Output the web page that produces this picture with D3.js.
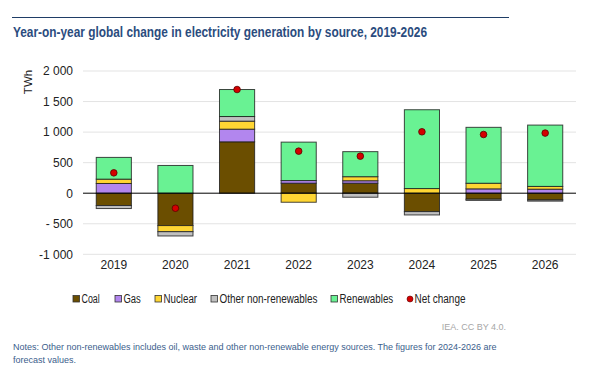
<!DOCTYPE html>
<html>
<head>
<meta charset="utf-8">
<script src="https://cdn.jsdelivr.net/npm/d3@7"></script>
<style>
  body { margin: 0; background: #fff; font-family: "Liberation Sans", Arial, sans-serif; }
  svg text { font-family: "Liberation Sans", Arial, sans-serif; }
</style>
</head>
<body>
<svg id="chart" width="615" height="370"></svg>
<script>
// chart data (TWh, year-on-year change)
var years = ['2019', '2020', '2021', '2022', '2023', '2024', '2025', '2026'];
var coal = [-202, -530, 841, 164, 164, -301, -98, -110];
var gas = [159, 0, 207, 43, 40, 0, 71, 66];
var nuclear = [71, -100, 131, -148, 66, 76, 92, 45];
var otherNonRen = [-49, -70, 76, 0, -66, -55, -20, -20];
var renewables = [356, 454, 442, 629, 410, 1290, 915, 1004];
var netChange = [333, -246, 1697, 688, 606, 1005, 961, 984];
var yTicks = [-1000, -500, 0, 500, 1000, 1500, 2000];

var seriesNames = ['Coal', 'Gas', 'Nuclear', 'Other non-renewables', 'Renewables'];
var seriesColors = ['#6b4e00', '#b286ee', '#ffd633', '#c0c0c0', '#69f293'];

var plotLeft = 83;
var plotRight = 576;
var plotTop = 71;
var plotBottom = 254.3;

var svg = d3.select('#chart');

// build rows for the stack
var rows = years.map(function(y, i) {
    return {
        year: y,
        'Coal': coal[i],
        'Gas': gas[i],
        'Nuclear': nuclear[i],
        'Other non-renewables': otherNonRen[i],
        'Renewables': renewables[i]
    };
});

var stacked = d3.stack()
    .keys(seriesNames)
    .offset(d3.stackOffsetDiverging)(rows);

var xScale = d3.scaleBand()
    .domain(years)
    .range([plotLeft, plotRight])
    .paddingInner(0.43)
    .paddingOuter(0.215);

var yScale = d3.scaleLinear()
    .domain([-1000, 2000])
    .range([plotBottom, plotTop]);

// top rule + title (narrow face, so squeeze to width)
svg.append('line')
    .attr('x1', 12).attr('x2', 509)
    .attr('y1', 17.5).attr('y2', 17.5)
    .attr('stroke', '#1f3d66')
    .attr('stroke-width', 1);

svg.append('text')
    .attr('x', 13)
    .attr('y', 36.5)
    .attr('textLength', 414)
    .attr('lengthAdjust', 'spacingAndGlyphs')
    .style('font-size', '14.5px')
    .style('font-weight', 'bold')
    .style('fill', '#2b4c7e')
    .text('Year-on-year global change in electricity generation by source, 2019-2026');

// gridlines
svg.append('g')
    .selectAll('line')
    .data(yTicks.filter(function(t) { return t !== 0; }))
    .enter()
    .append('line')
    .attr('x1', plotLeft).attr('x2', plotRight)
    .attr('y1', function(d) { return yScale(d); })
    .attr('y2', function(d) { return yScale(d); })
    .attr('stroke', '#e3e3e3')
    .attr('stroke-width', 1);

// y axis labels, space as thousands separator
function fmt(v) {
    var s = d3.format(',')(Math.abs(v)).replace(/,/g, ' ');
    if (v < 0) {
        return (Math.abs(v) < 1000 ? '- ' : '-') + s;
    }
    return s;
}

var yAxis = d3.axisLeft(yScale)
    .tickValues(yTicks)
    .tickSize(0)
    .tickPadding(0)
    .tickFormat(fmt);

var yg = svg.append('g')
    .attr('transform', 'translate(73,0)')
    .call(yAxis);
yg.select('.domain').remove();
yg.selectAll('text')
    .style('font-size', '12px')
    .style('fill', '#222');

svg.append('text')
    .attr('transform', 'translate(32,82) rotate(-90)')
    .style('text-anchor', 'middle')
    .style('font-size', '11.5px')
    .style('fill', '#222')
    .text('TWh');

// bars
svg.append('g')
    .selectAll('g')
    .data(stacked)
    .enter()
    .append('g')
    .attr('fill', function(d, i) { return seriesColors[i]; })
    .selectAll('rect')
    .data(function(d) { return d.filter(function(p) { return p[1] - p[0] !== 0; }); })
    .enter()
    .append('rect')
    .attr('x', function(d) { return xScale(d.data.year); })
    .attr('width', xScale.bandwidth())
    .attr('y', function(d) { return yScale(Math.max(d[0], d[1])); })
    .attr('height', function(d) { return Math.abs(yScale(d[0]) - yScale(d[1])); })
    .attr('stroke', '#1a1a1a')
    .attr('stroke-opacity', 0.8)
    .attr('stroke-width', 1);

// zero line
svg.append('line')
    .attr('x1', plotLeft).attr('x2', plotRight)
    .attr('y1', yScale(0)).attr('y2', yScale(0))
    .attr('stroke', '#000')
    .attr('stroke-width', 1);

// net change dots
svg.append('g')
    .selectAll('circle')
    .data(netChange)
    .enter()
    .append('circle')
    .attr('cx', function(d, i) { return xScale(years[i]) + xScale.bandwidth() / 2; })
    .attr('cy', function(d) { return yScale(d); })
    .attr('r', 3.3)
    .attr('fill', '#d40000')
    .attr('stroke', '#5a0000')
    .attr('stroke-width', 0.8);

// x axis labels
var xAxis = d3.axisBottom(xScale).tickSize(0).tickPadding(0);
var xg = svg.append('g')
    .attr('transform', 'translate(0,260)')
    .call(xAxis);
xg.select('.domain').remove();
xg.selectAll('text')
    .style('font-size', '12px')
    .style('fill', '#222');

// legend (narrow text, squeezed)
var legendX = [73, 115, 155, 211, 331];
var legendW = [18.3, 17.3, 33.6, 98, 53.7];
var legend = svg.append('g');
seriesNames.forEach(function(name, i) {
    legend.append('rect')
        .attr('x', legendX[i])
        .attr('y', 295.5)
        .attr('width', 6.5)
        .attr('height', 6.5)
        .attr('fill', seriesColors[i])
        .attr('stroke', '#333')
        .attr('stroke-width', 0.8);
    legend.append('text')
        .attr('x', legendX[i] + 8.5)
        .attr('y', 303)
        .attr('textLength', legendW[i])
        .attr('lengthAdjust', 'spacingAndGlyphs')
        .style('font-size', '12px')
        .style('fill', '#222')
        .text(name);
});
legend.append('circle')
    .attr('cx', 410)
    .attr('cy', 299)
    .attr('r', 3)
    .attr('fill', '#d40000')
    .attr('stroke', '#5a0000')
    .attr('stroke-width', 0.6);
legend.append('text')
    .attr('x', 414.5)
    .attr('y', 303)
    .attr('textLength', 51)
    .attr('lengthAdjust', 'spacingAndGlyphs')
    .style('font-size', '12px')
    .style('fill', '#222')
    .text('Net change');

// source
svg.append('text')
    .attr('x', 506)
    .attr('y', 329.5)
    .style('text-anchor', 'end')
    .style('font-size', '9px')
    .style('fill', '#a6a6a6')
    .text('IEA. CC BY 4.0.');

// notes
svg.append('text')
    .attr('x', 13)
    .attr('y', 350)
    .style('font-size', '9px')
    .style('fill', '#3b5e8c')
    .text('Notes: Other non-renewables includes oil, waste and other non-renewable energy sources. The figures for 2024-2026 are');
svg.append('text')
    .attr('x', 13)
    .attr('y', 363)
    .style('font-size', '9px')
    .style('fill', '#3b5e8c')
    .text('forecast values.');
</script>
</body>
</html>
